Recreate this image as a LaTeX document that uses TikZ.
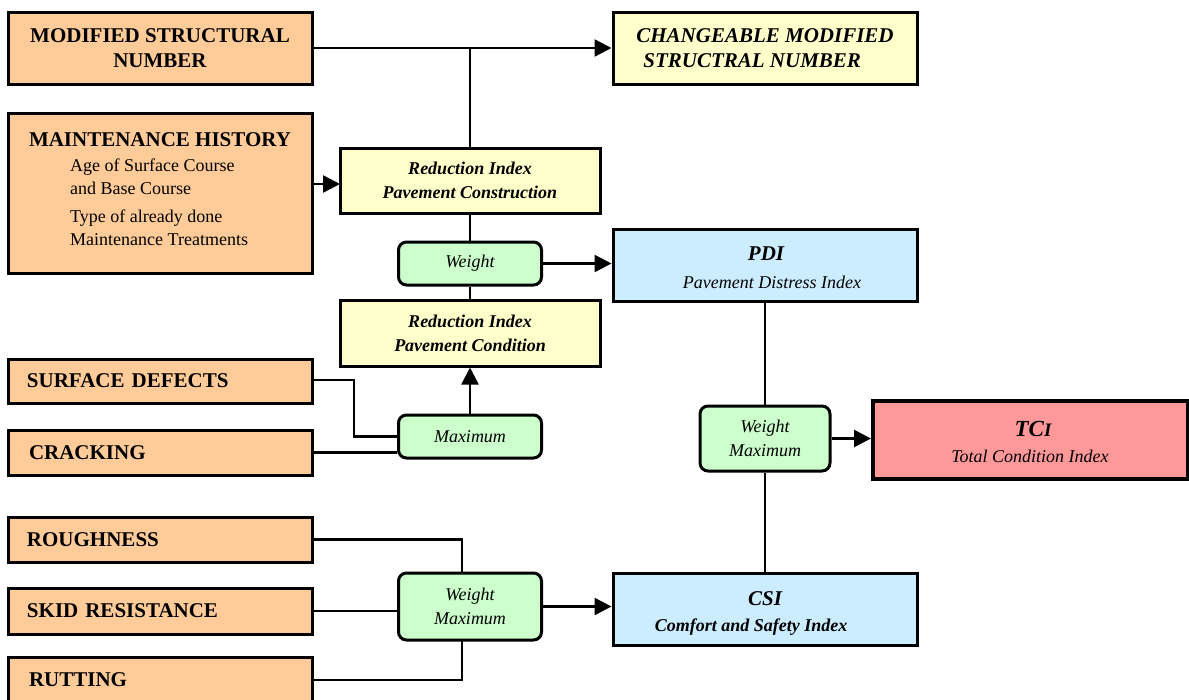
\documentclass[tikz,border=0pt]{standalone}
\usepackage{fontspec}
\setmainfont{Liberation Serif}
\usetikzlibrary{arrows.meta,calc}
\definecolor{peach}{HTML}{FFCC99}
\definecolor{paleyellow}{HTML}{FFFFCC}
\definecolor{mint}{HTML}{CCFFCC}
\definecolor{paleblue}{HTML}{CCECFF}
\definecolor{salmon}{HTML}{FF9999}
\tikzset{
  boxbase/.style={draw=black, line width=3pt, rectangle, inner sep=0pt, align=center},
  inbox/.style={boxbase, fill=peach, minimum width=304, font=\fontsize{21}{25}\selectfont\bfseries},
  leftin/.style={inbox, text width=266, inner xsep=19, align=left},
  redbox/.style={boxbase, fill=paleyellow, minimum width=260, minimum height=65, font=\fontsize{18}{24}\selectfont\bfseries\itshape},
  calcbox/.style={boxbase, fill=mint, rounded corners=8pt, minimum width=143, font=\fontsize{18}{24}\selectfont\itshape},
  idxbox/.style={boxbase, fill=paleblue, minimum width=304, minimum height=72},
  bigbi/.style={font=\fontsize{21}{25}\selectfont\bfseries\itshape, inner sep=0pt, anchor=base},
  subit/.style={font=\fontsize{18}{22}\selectfont\itshape, inner sep=0pt, anchor=base},
  subrm/.style={font=\fontsize{18}{22}\selectfont, inner sep=0pt, anchor=base west},
  line/.style={draw=black, line width=2.4pt},
  arr/.style={line, -{Triangle[length=17pt,width=17pt]}}
}
\begin{document}
\begin{tikzpicture}[x=1pt,y=-1pt]
\useasboundingbox (0,0) rectangle (1189,699);
\fill[white] (0,0) rectangle (1189,699);
% inputs
\node[inbox, minimum height=72] (msn) at (160,48) {MODIFIED STRUCTURAL\\NUMBER};
\node[inbox, minimum height=160] (mh) at (160,193) {};
\node[inbox, draw=none, fill=none, anchor=base] (mhtitle) at (160,146) {MAINTENANCE HISTORY};
\node[subrm] (mh1) at (70,171) {Age of Surface Course};
\node[subrm] (mh2) at (70,194) {and Base Course};
\node[subrm] (mh3) at (70,222) {Type of already done};
\node[subrm] (mh4) at (70,245) {Maintenance Treatments};
\node[leftin, minimum height=44] (sd) at (160,381) {SURFACE DEFECTS};
\node[leftin, minimum height=45] (cr) at (160,452.5) {\hspace*{2pt}CRACKING};
\node[leftin, minimum height=45] (rough) at (160,539.5) {ROUGHNESS};
\node[leftin, minimum height=46] (skid) at (160,611) {SKID RESISTANCE};
\node[leftin, minimum height=45] (rut) at (160,680) {\hspace*{2pt}RUTTING};
% output
\node[boxbase, fill=paleyellow, minimum width=304, minimum height=72, align=left,
      font=\fontsize{21}{25}\selectfont\bfseries\itshape] (cmsn) at (765,48)
 {CHANGEABLE MODIFIED\\\hspace*{7pt}STRUCTRAL NUMBER};
% reduction indices
\node[redbox] (ric) at (470,180.5) {Reduction Index\\Pavement Construction};
\node[redbox, minimum height=66] (rip) at (470,333) {Reduction Index\\Pavement Condition};
% calc boxes
\node[calcbox, minimum height=43] (w1) at (470,263.5) {Weight};
\node[calcbox, minimum height=43] (mx) at (470,436.5) {Maximum};
\node[calcbox, minimum height=67] (wm2) at (470,606.5) {Weight\\Maximum};
\node[calcbox, minimum width=130, minimum height=65] (wm) at (765,438.5) {Weight\\Maximum};
% indices
\node[idxbox] (pdi) at (765,265) {};
\node[bigbi] (pdit) at (766,260) {PDI};
\node[subit] (pdis) at (772,288) {Pavement Distress Index};
\node[idxbox] (csi) at (765,609) {};
\node[bigbi] (csit) at (765,605) {CSI};
\node[subit, font=\fontsize{18}{22}\selectfont\bfseries\itshape] (csis) at (751,631) {Comfort and Safety Index};
\node[boxbase, line width=4pt, fill=salmon, minimum width=315, minimum height=78] (tci) at (1030.5,439.5) {};
\node[bigbi, font=\fontsize{23}{26}\selectfont\bfseries\itshape] (tcit) at (1033,436) {TC{\fontsize{19}{22}\selectfont I}};
\node[subit] (tcis) at (1030,462) {Total Condition Index};
% connectors
\draw[arr] (msn.east) -- (cmsn.west);
\draw[line] (msn.east -| ric.north) -- (ric.north);
\coordinate (ricin) at (340,184);
\draw[arr] (ricin -| mh.east) -- (ricin);
\draw[line] (ric.south) -- (w1.north);
\draw[line] (w1.south) -- (rip.north);
\draw[arr] (w1.east) -- (w1.east -| pdi.west);
\draw[arr] (mx.north) -- (rip.south);
\coordinate (sdbend) at (354,436.5);
\draw[line] (312,380) -| (sdbend) -- (mx.west);
\draw[line] (cr.east) -- (cr.east -| mx.west);
\draw[line] (pdi.south) -- (wm.north);
\draw[line] (csi.north) -- (wm.south);
\draw[arr] (wm.east) -- (wm.east -| tci.west);
\coordinate (wm2top) at (462,573);
\coordinate (wm2bot) at (462,640);
\draw[line] (rough.east) -| (wm2top);
\draw[line] (rut.east) -| (wm2bot);
\draw[line] (skid.east) -- (skid.east -| wm2.west);
\draw[arr] (wm2.east) -- (wm2.east -| csi.west);
\end{tikzpicture}
\end{document}
